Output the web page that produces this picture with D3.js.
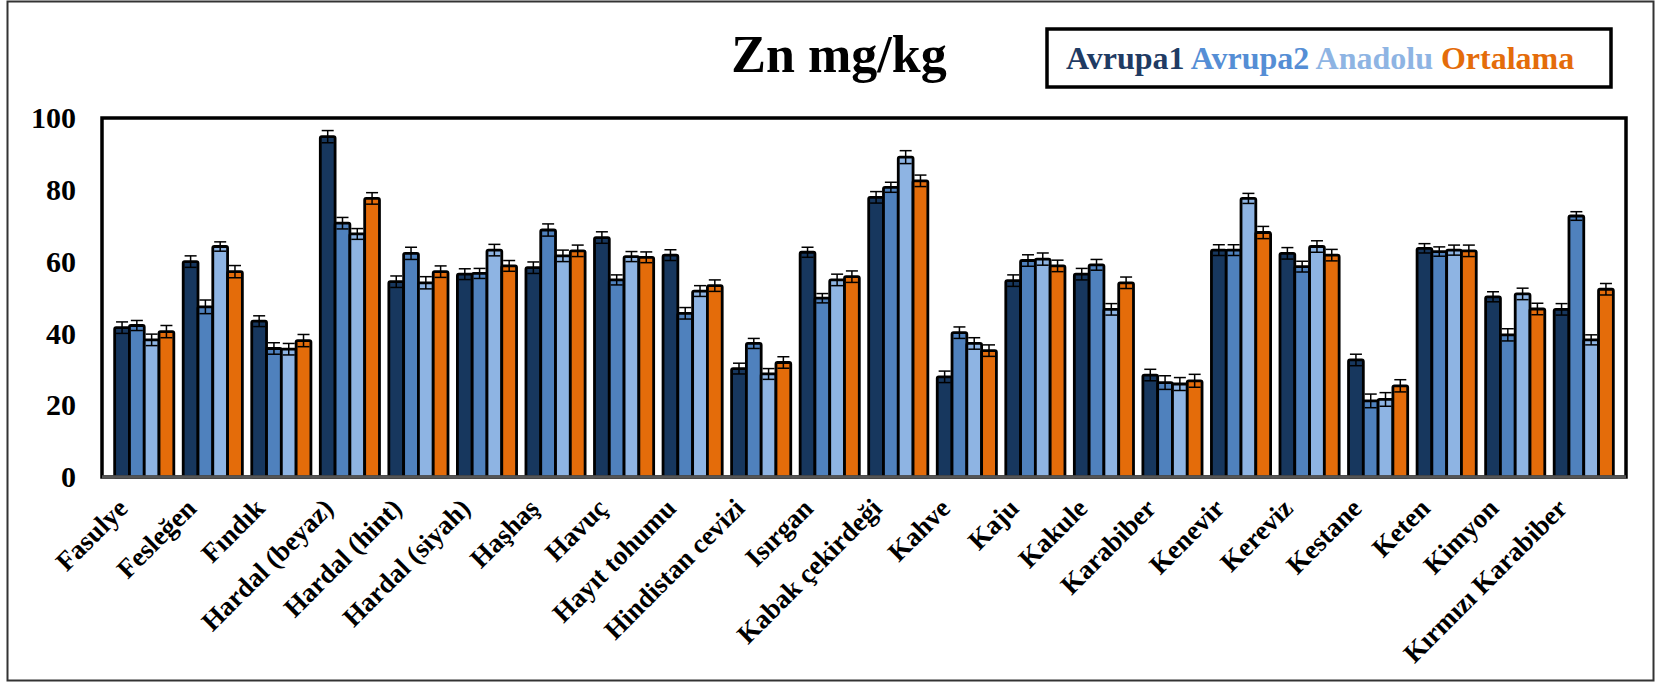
<!DOCTYPE html>
<html>
<head>
<meta charset="utf-8">
<script src="https://cdn.jsdelivr.net/npm/d3@7/dist/d3.min.js"></script>
<style>
  html, body { margin: 0; padding: 0; background: #fff; }
  svg { display: block; }
  text { font-family: "Liberation Serif", "Times New Roman", serif; font-weight: bold; }
</style>
</head>
<body>
<svg id="chart" width="1659" height="683"></svg>
<script>
const categories = ["Fasulye","Fesleğen","Fındık","Hardal (beyaz)","Hardal (hint)","Hardal (siyah)","Haşhaş","Havuç","Hayıt tohumu","Hindistan cevizi","Isırgan","Kabak çekirdeği","Kahve","Kaju","Kakule","Karabiber","Kenevir","Kereviz","Kestane","Keten","Kimyon","Kırmızı Karabiber"];
const seriesNames = ["Avrupa1","Avrupa2","Anadolu","Ortalama"];
const seriesColors = ["#17375e","#4f81bd","#8eb4e3","#e46c0a"];
const legendColors = ["#1f3b63","#558ed5","#8eb4e3","#e46c0a"];

const avrupa1  = [41.6,60.0,43.4,94.8,54.4,56.5,58.3,66.7,61.8,30.2,62.6,77.9,27.9,54.7,56.5,28.4,63.2,62.3,32.6,63.7,50.2,46.7];
const avrupa2  = [42.2,47.4,35.8,70.7,62.3,56.7,68.8,54.9,45.6,37.2,49.8,80.7,40.2,60.3,59.1,26.3,63.2,58.6,21.2,62.8,39.6,72.7];
const anadolu  = [38.2,64.2,35.6,67.7,54.1,63.2,61.6,61.4,51.8,28.7,54.9,89.1,37.2,60.7,46.7,25.9,77.6,64.2,21.6,63.2,51.0,38.2];
const ortalama = [40.5,57.2,38.0,77.6,57.2,58.8,63.0,61.2,53.3,31.9,55.8,82.5,35.2,58.8,54.1,26.8,68.1,61.8,25.4,63.0,46.8,52.3];

const errA1 = [1.6,1.6,1.5,1.7,1.6,1.5,1.6,1.6,1.5,1.5,1.4,1.6,1.6,1.6,1.6,1.6,1.5,1.6,1.6,1.3,1.4,1.6];
const errA2 = [1.4,1.9,1.6,1.6,1.7,1.4,1.7,1.4,1.6,1.4,1.3,1.4,1.6,1.6,1.5,1.9,1.5,1.5,1.9,1.3,1.7,1.2];
const errAn = [1.6,1.3,1.6,1.5,1.7,1.6,1.6,1.4,1.5,1.5,1.6,1.8,1.6,1.7,1.6,1.8,1.4,1.6,1.9,1.4,1.6,1.4];
const errOr = [1.7,1.7,1.7,1.6,1.6,1.5,1.6,1.5,1.6,1.6,1.6,1.6,1.6,1.6,1.6,1.8,1.7,1.6,1.7,1.6,1.6,1.6];

const yTicks = [0,20,40,60,80,100];
const titleText = "Zn mg/kg";

const seriesValues = [avrupa1, avrupa2, anadolu, ortalama];
const seriesErrors = [errA1, errA2, errAn, errOr];

const svg = d3.select("#chart");

// outer border
svg.append("rect").attr("x",7.5).attr("y",1.5).attr("width",1646).attr("height",679)
  .attr("fill","none").attr("stroke","#333").attr("stroke-width",2);

const plot = {left:102, right:1626, top:118, bottom:477};

const y = d3.scaleLinear().domain([0,100]).range([plot.bottom, plot.top]);
const x = d3.scaleBand().domain(categories).range([110,1618]).paddingInner(0.137).paddingOuter(0.068);
const xs = d3.scaleBand().domain(seriesNames).range([0, x.bandwidth()]);

// plot frame
svg.append("rect").attr("x",plot.left).attr("y",plot.top)
  .attr("width",plot.right-plot.left).attr("height",plot.bottom-plot.top)
  .attr("fill","none").attr("stroke","#000").attr("stroke-width",3.5);

// y axis labels
const yAxis = d3.axisLeft(y).tickValues(yTicks).tickSize(0).tickPadding(26).tickFormat(d3.format("d"));
const yg = svg.append("g").attr("transform",`translate(${plot.left},0)`).call(yAxis);
yg.select(".domain").remove();
yg.selectAll("text").attr("font-size",30).attr("fill","#000")
  .style("font-family","'Liberation Serif', serif").style("font-weight","bold");

// bars
const data = [];
categories.forEach((c,i)=>{
  seriesNames.forEach((s,j)=>{
    data.push({cat:c, ser:s, j:j, v:seriesValues[j][i], e:seriesErrors[j][i]});
  });
});

const bars = svg.append("g");
bars.selectAll("rect").data(data).join("rect")
  .attr("x", d => x(d.cat) + xs(d.ser))
  .attr("y", d => y(d.v))
  .attr("width", xs.bandwidth())
  .attr("height", d => y(0) - y(d.v))
  .attr("rx",1.5)
  .attr("fill", d => seriesColors[d.j])
  .attr("stroke","#000").attr("stroke-width",2.8);

// error bars
const eb = svg.append("g").attr("stroke","#000").attr("stroke-width",1.5);
const cap = 6;
data.forEach(d=>{
  const cx = x(d.cat) + xs(d.ser) + xs.bandwidth()/2;
  eb.append("line").attr("x1",cx).attr("x2",cx).attr("y1",y(d.v+d.e)).attr("y2",y(d.v-d.e));
  eb.append("line").attr("x1",cx-cap).attr("x2",cx+cap).attr("y1",y(d.v+d.e)).attr("y2",y(d.v+d.e));
  eb.append("line").attr("x1",cx-cap).attr("x2",cx+cap).attr("y1",y(d.v-d.e)).attr("y2",y(d.v-d.e));
});

// bottom axis line
svg.append("line").attr("x1",plot.left).attr("x2",plot.right).attr("y1",plot.bottom).attr("y2",plot.bottom)
  .attr("stroke","#555").attr("stroke-width",3.5);

// x labels
svg.append("g").selectAll("text").data(categories).join("text")
  .attr("transform", d => `translate(${x(d)+x.bandwidth()/2-15},${plot.bottom+33}) rotate(-45)`)
  .attr("text-anchor","end")
  .attr("font-size",27)
  .attr("fill","#000")
  .text(d=>d);

// title
svg.append("text").attr("x",839).attr("y",72).attr("text-anchor","middle")
  .attr("font-size",52).attr("fill","#000").text(titleText);

// legend
svg.append("rect").attr("x",1047).attr("y",29).attr("width",564).attr("height",58)
  .attr("fill","#fff").attr("stroke","#000").attr("stroke-width",3.5);
const lt = svg.append("text").attr("x",1066).attr("y",69).attr("font-size",32);
seriesNames.forEach((s,j)=>{
  lt.append("tspan").attr("fill",legendColors[j]).text(s + (j<seriesNames.length-1 ? " " : ""));
});
</script>
</body>
</html>
